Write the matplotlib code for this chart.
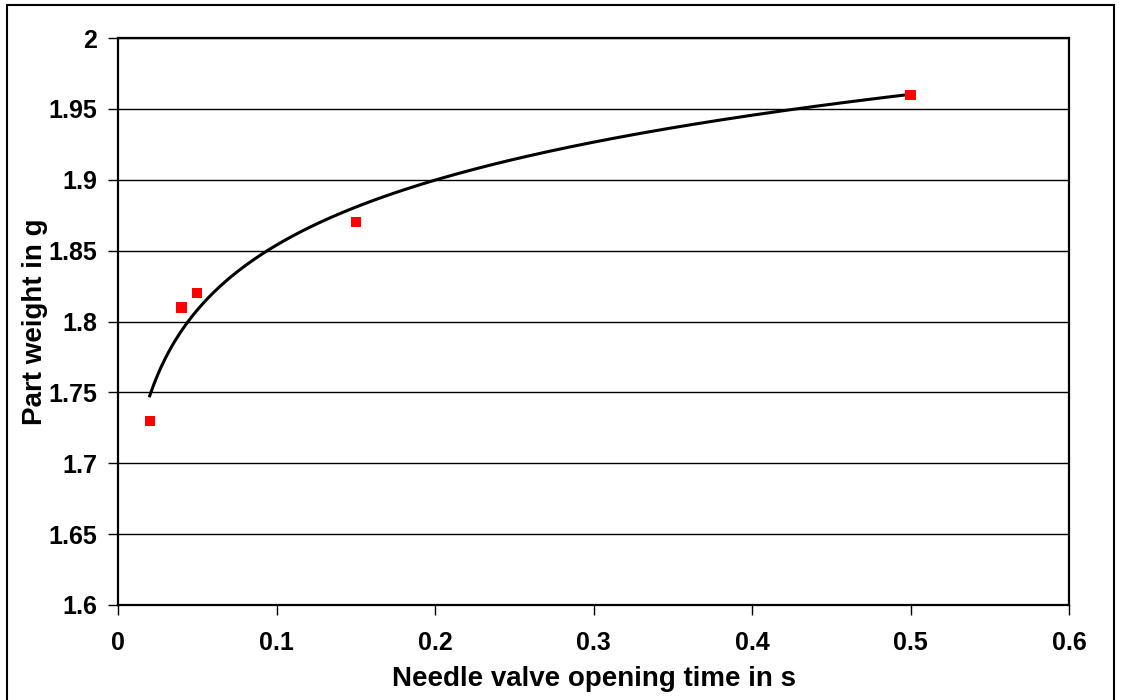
import numpy as np
import matplotlib
matplotlib.use("Agg")
import matplotlib.pyplot as plt
from matplotlib.patches import Rectangle

# Measured part weights versus needle valve opening time
opening_time = [0.02, 0.04, 0.05, 0.15, 0.5]
part_weight = [1.73, 1.81, 1.82, 1.87, 1.96]

x_ticks = [0, 0.1, 0.2, 0.3, 0.4, 0.5, 0.6]
y_ticks = [1.6, 1.65, 1.7, 1.75, 1.8, 1.85, 1.9, 1.95, 2]

plt.rcParams['font.family'] = ['Liberation Sans', 'DejaVu Sans']
plt.rcParams['font.weight'] = 'bold'

W, H = 1121, 700
fig = plt.figure(figsize=(W / 100, H / 100), dpi=100)
ax = fig.add_axes([118 / W, 1 - 605 / H, (1069 - 118) / W, (605 - 38) / H])

# Logarithmic trend line fitted to the measurements
a, b = np.polyfit(np.log(opening_time), part_weight, 1)
xs = np.linspace(min(opening_time), max(opening_time), 400)
ax.plot(xs, a * np.log(xs) + b, color='black', lw=2.2, zorder=3)

ax.scatter(opening_time, part_weight, marker='s', s=56, color='#ff0000',
           edgecolors='none', zorder=4)

ax.set_xlim(0, 0.6)
ax.set_ylim(1.6, 2.0)
ax.set_xticks(x_ticks)
ax.set_yticks(y_ticks)
ax.set_xticklabels(['0', '0.1', '0.2', '0.3', '0.4', '0.5', '0.6'])
ax.set_yticklabels(['1.6', '1.65', '1.7', '1.75', '1.8', '1.85', '1.9', '1.95', '2'])
ax.grid(axis='y', color='black', lw=1.0)
ax.set_axisbelow(True)
for s in ax.spines.values():
    s.set_linewidth(1.6)
    s.set_color('black')
ax.tick_params(axis='both', direction='out', length=7, width=1.0,
               labelsize=18, colors='black', pad=8)
ax.tick_params(axis='x', pad=12)

ax.set_xlabel('Needle valve opening time in s', fontsize=20, fontweight='bold', labelpad=8)
ax.set_ylabel('Part weight in g', fontsize=20, fontweight='bold', labelpad=0)

fig.patches.append(Rectangle((7 / W, -0.01), (1114 - 7) / W, 1 - 5 / H + 0.01,
                             transform=fig.transFigure, fill=False,
                             edgecolor='black', lw=1.5))

fig.savefig('out.png', dpi=100)
